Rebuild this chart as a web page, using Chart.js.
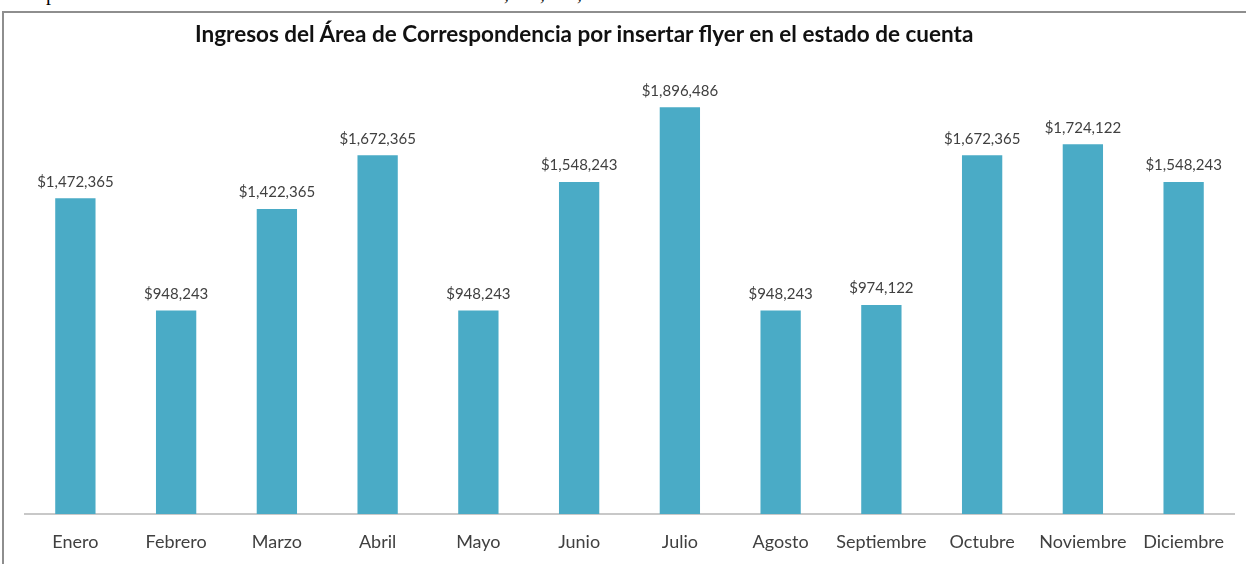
<!DOCTYPE html>
<html lang="es">
<head>
<meta charset="utf-8">
<title>Ingresos del Área de Correspondencia</title>
<script src="https://cdn.jsdelivr.net/npm/chart.js@4/dist/chart.umd.min.js"></script>
<style>
    body { margin: 0; background: #fff; }
    #page { position: relative; width: 1246px; height: 564px; overflow: hidden; }
    #prev-line { position: absolute; left: 0; top: 0; width: 1246px; height: 5px; overflow: hidden; font: 20px "Liberation Serif", serif; color: #000; }
    #prev-line span { position: absolute; top: -18px; }
    #frame { position: absolute; left: 2px; top: 11px; width: 1260px; height: 570px; border-top: 2px solid #8e8e8e; border-left: 2px solid #8e8e8e; }
    #chart-title { position: absolute; left: 195px; top: 20px; font: bold 22.5px Lato, sans-serif; color: #111; white-space: nowrap; }
    #ingresos-chart { position: absolute; left: 0; top: 0; }
</style>
</head>
<body>
<div id="page">
    <div id="prev-line"><span style="left:46px">p</span><span style="left:504px">,</span><span style="left:540px">,</span><span style="left:577px">,</span></div>
    <div id="frame"></div>
    <canvas id="ingresos-chart" width="1246" height="564"></canvas>
    <div id="chart-title">Ingresos del Área de Correspondencia por insertar flyer en el estado de cuenta</div>
</div>
<script>
// Ingresos mensuales
const meses = ['Enero', 'Febrero', 'Marzo', 'Abril', 'Mayo', 'Junio', 'Julio', 'Agosto', 'Septiembre', 'Octubre', 'Noviembre', 'Diciembre'];
const ingresos = [1472365, 948243, 1422365, 1672365, 948243, 1548243, 1896486, 948243, 974122, 1672365, 1724122, 1548243];
const ejeMaximo = 2000000;

const formatoPesos = v => '$' + v.toLocaleString('en-US');

// etiquetas de valor encima de cada barra
const etiquetasValor = {
    id: 'etiquetasValor',
    afterDatasetsDraw(chart) {
        const ctx = chart.ctx;
        const meta = chart.getDatasetMeta(0);
        ctx.save();
        ctx.font = '15px Lato, sans-serif';
        ctx.fillStyle = '#404040';
        ctx.textAlign = 'center';
        ctx.textBaseline = 'bottom';
        meta.data.forEach((bar, i) => {
            ctx.fillText(formatoPesos(ingresos[i]), bar.x, bar.y - 9);
        });
        ctx.restore();
    }
};

const ingresosGraph = document.getElementById('ingresos-chart').getContext('2d');

const ingresosChart = new Chart(ingresosGraph, {
    type: 'bar',
    data: {
        labels: meses,
        datasets: [{
            data: ingresos,
            backgroundColor: '#4aabc6',
            categoryPercentage: 1,
            barPercentage: 0.4
        }]
    },
    options: {
        responsive: false,
        animation: false,
        layout: {
            padding: { left: 25, right: 12, top: 85, bottom: 0 }
        },
        plugins: {
            legend: { display: false },
            tooltip: { enabled: false }
        },
        scales: {
            x: {
                grid: { display: false, drawTicks: false },
                border: { color: '#c8c8c8', width: 2 },
                ticks: {
                    padding: 17,
                    color: '#404040',
                    font: { family: 'Lato', size: 18 }
                },
                afterFit(scale) {
                    scale.height = 50;
                }
            },
            y: {
                display: false,
                min: 0,
                max: ejeMaximo
            }
        }
    },
    plugins: [etiquetasValor]
});
</script>
</body>
</html>
